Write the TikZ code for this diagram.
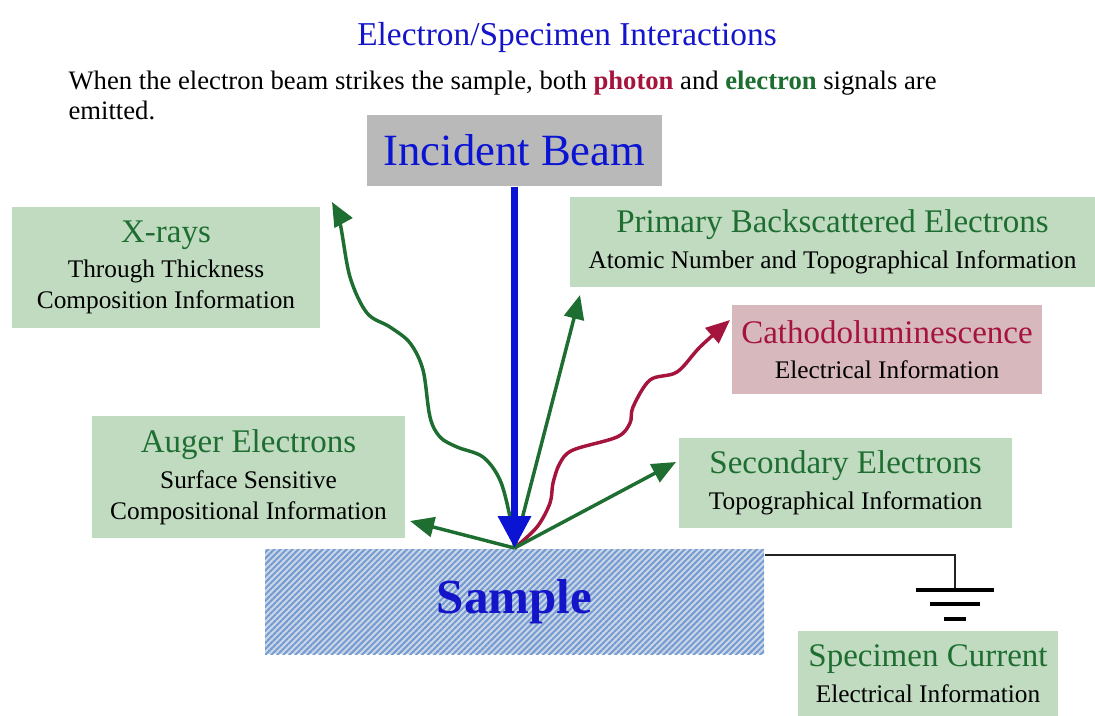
\documentclass[tikz,border=0pt]{standalone}
\usepackage{fontspec}
\setmainfont{Liberation Serif}
\usetikzlibrary{arrows.meta,patterns.meta}
\tikzset{every picture/.style={line width=0.75pt}}

\definecolor{headblue}{RGB}{20,20,200}
\definecolor{beamblue}{RGB}{10,20,210}
\definecolor{sigred}{RGB}{165,20,60}
\definecolor{siggreen}{RGB}{30,110,50}
\definecolor{boxgreen}{RGB}{193,219,193}
\definecolor{boxpink}{RGB}{215,184,189}
\definecolor{boxgray}{RGB}{185,185,185}
\definecolor{hatchblue}{RGB}{115,155,212}
\definecolor{hatchback}{RGB}{205,214,228}
\definecolor{wiregray}{RGB}{35,35,35}

\newcommand{\headfont}{\fontsize{24.75}{29}\selectfont}
\newcommand{\infofont}{\fontsize{19}{23.25}\selectfont}
\newcommand{\boxhead}[2]{{\headfont\color{#1}#2}}

\tikzset{
  infobox/.style={fill=boxgreen, inner sep=0pt, align=center, font=\infofont},
  signal/.style={draw=siggreen, line width=2.6pt, -{Triangle[length=18pt,width=15pt]}},
  photon/.style={signal, draw=sigred},
  beamline/.style={draw=beamblue, line width=5pt, -{Triangle[length=24pt,width=24pt]}},
  wire/.style={draw=wiregray, line width=1.5pt},
  gndbar/.style={draw=black, line width=3pt}
}

\begin{document}
\begin{tikzpicture}[x=0.75pt,y=0.75pt,yscale=-1,xscale=1]
\useasboundingbox (0,0) rectangle (1095,715);

% Text Node
\node[font=\fontsize{25}{30}\selectfont, text=headblue, anchor=base] (title) at (567,45) {Electron/Specimen Interactions};
% Text Node
\node[font=\fontsize{20}{22.5}\selectfont, anchor=north west, align=left, inner sep=0pt] (intro) at (68,70)
  {When the electron beam strikes the sample, both \textbf{\color{sigred}photon} and \textbf{\color{siggreen}electron} signals are\\emitted.};

%Shape: Rectangle
\node[fill=boxgray, inner sep=0pt, minimum width=221.25pt, minimum height=53.25pt, text=beamblue, font=\fontsize{33.5}{40}\selectfont] (beam) at (514.5,150.5) {Incident Beam};
%Shape: Rectangle
\node[preaction={fill=hatchback}, pattern={Lines[angle=45,distance=3.2pt,line width=1.5pt]}, pattern color=hatchblue, inner sep=0pt, minimum width=374.25pt, minimum height=78.75pt, text=headblue, font=\fontsize{36.75}{44}\selectfont\bfseries] (sample) at (514.5,601.5) {Sample};

%Shape: Rectangle
\node[infobox, minimum width=231pt, minimum height=90.75pt] (xrays) at (166,267.5)
  {\boxhead{siggreen}{X-rays}\\[3.5pt] Through Thickness\\ Composition Information};
%Shape: Rectangle
\node[infobox, minimum width=393.75pt, minimum height=67.5pt] (backscat) at (832.5,242)
  {\boxhead{siggreen}{Primary Backscattered Electrons}\\[3.5pt] Atomic Number and Topographical Information};
%Shape: Rectangle
\node[infobox, fill=boxpink, minimum width=232.5pt, minimum height=66.75pt] (cathodo) at (887,349.5)
  {\boxhead{sigred}{Cathodoluminescence}\\[3.5pt] Electrical Information};
%Shape: Rectangle
\node[infobox, minimum width=234.75pt, minimum height=91.5pt] (auger) at (248.5,477)
  {\boxhead{siggreen}{Auger Electrons}\\[3.5pt] Surface Sensitive\\ Compositional Information};
%Shape: Rectangle
\node[infobox, minimum width=249.75pt, minimum height=67.5pt] (secondary) at (845.5,483)
  {\boxhead{siggreen}{Secondary Electrons}\\[3.5pt] Topographical Information};
%Shape: Rectangle
\node[infobox, minimum width=195pt, minimum height=64.5pt] (specimen) at (928,674)
  {\boxhead{siggreen}{Specimen Current}\\[3.5pt] Electrical Information};

% arrow ends
\coordinate (hit) at (sample.north);
\coordinate (xtip) at (332,202);
\coordinate (bstip) at (580,295);
\coordinate (cltip) at (730,320);
\coordinate (setip) at (676,462);
\coordinate (autip) at (410,521);
\coordinate (gnd) at (955,590);

%Curve Lines
\draw[signal] plot[smooth, tension=0.55] coordinates {(hit) (510,517) (500,480) (483,457) (457,447) (440,437) (430,417) (423,370) (410,343) (390,327) (367,313) (350,277) (340,223) (xtip)};
%Curve Lines
\draw[photon] plot[smooth, tension=0.55] coordinates {(hit) (537,527) (550,503) (553,483) (560,463) (573,450) (617,437) (630,423) (633,407) (650,380) (677,372) (700,347) (cltip)};
%Straight Lines
\draw[signal] (hit) -- (bstip);
\draw[signal] (hit) -- (setip);
\draw[signal] (hit) -- (autip);
%Straight Lines
\draw[beamline] (beam.south) -- (hit);

%Straight Lines
\draw[wire] ([yshift=5.5pt]sample.north east) -| (gnd);
\draw[gndbar] (gnd) ++(-39,0) -- ++(78,0);
\draw[gndbar] (gnd) ++(-25,14) -- ++(50,0);
\draw[gndbar] (gnd) ++(-11,29) -- ++(22,0);

\end{tikzpicture}
\end{document}
